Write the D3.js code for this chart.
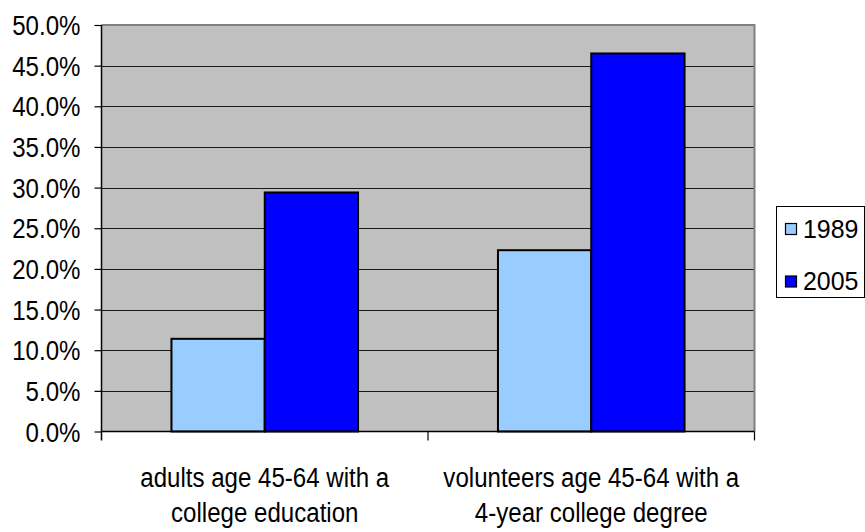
<!DOCTYPE html>
<html>
<head>
<meta charset="utf-8">
<script src="https://cdn.jsdelivr.net/npm/d3@7"></script>
<style>
  html, body { margin: 0; padding: 0; background: #fff; }
  svg { display: block; }
  text { font-family: Arial, "Liberation Sans", sans-serif; fill: #000; }
</style>
</head>
<body>
<svg id="chart" width="865" height="532"></svg>
<script>
// Share of people age 45-64 with a college education, by year
const categories = [
  ["adults age 45-64 with a", "college education"],
  ["volunteers age 45-64 with a", "4-year college degree"]
];
const seriesNames = ["1989", "2005"];
const values1989 = [0.114, 0.223];
const values2005 = [0.294, 0.465];
const yTicks = [0, 0.05, 0.10, 0.15, 0.20, 0.25, 0.30, 0.35, 0.40, 0.45, 0.50];
const seriesColors = ["#99ccff", "#0000ff"];

const svg = d3.select("#chart");
const plot = { left: 101.5, right: 754.5, top: 25, bottom: 431.5 };
const fontSize = 28, squeeze = 0.86;

const x0 = d3.scaleBand()
  .domain(d3.range(categories.length))
  .range([plot.left, plot.right])
  .paddingInner(0).paddingOuter(0);
const barW = x0.bandwidth() / 3.5;   // gap width of 150%
const y = d3.scaleLinear().domain([0, 0.5]).range([plot.bottom, plot.top]);

// plot area background
svg.append("rect")
  .attr("x", plot.left).attr("y", plot.top)
  .attr("width", plot.right - plot.left).attr("height", plot.bottom - plot.top)
  .attr("fill", "#c0c0c0");

// gridlines
svg.append("g").selectAll("line")
  .data(yTicks.filter(t => t > 0 && t < 0.5))
  .join("line")
  .attr("x1", plot.left).attr("x2", plot.right)
  .attr("y1", d => Math.round(y(d)) + 0.5).attr("y2", d => Math.round(y(d)) + 0.5)
  .attr("stroke", "#1a1a1a").attr("stroke-width", 1.2);

// top and right border of the plot area
svg.append("path")
  .attr("d", `M${plot.left},${plot.top}H${plot.right}V${plot.bottom}`)
  .attr("fill", "none").attr("stroke", "#808080").attr("stroke-width", 2);

// bars
const rows = [values1989, values2005];
rows.forEach((vals, s) => {
  svg.append("g").selectAll("rect")
    .data(vals)
    .join("rect")
    .attr("x", (d, i) => x0(i) + x0.bandwidth() / 2 - barW + s * barW)
    .attr("y", d => y(d))
    .attr("width", barW)
    .attr("height", d => y(0) - y(d))
    .attr("fill", seriesColors[s])
    .attr("stroke", "#000").attr("stroke-width", 2);
});

// y axis
const yAxis = svg.append("g")
  .attr("transform", `translate(${plot.left},0)`)
  .call(d3.axisLeft(y).tickValues(yTicks).tickSize(7).tickPadding(0)
    .tickFormat(d3.format(".1%")));
yAxis.select(".domain").remove();
yAxis.selectAll(".tick line").attr("stroke", "#000").attr("stroke-width", 1.2);
yAxis.selectAll(".tick text")
  .attr("x", 0).attr("dy", null).attr("dominant-baseline", "central")
  .attr("text-anchor", "end")
  .style("font-size", fontSize + "px")
  .attr("transform", `translate(-21,0) scale(${squeeze},1)`);
svg.append("line")
  .attr("x1", plot.left).attr("x2", plot.left)
  .attr("y1", plot.top).attr("y2", plot.bottom + 9)
  .attr("stroke", "#000").attr("stroke-width", 1.5);

// x axis line and category dividers
svg.append("line")
  .attr("x1", plot.left).attr("x2", plot.right)
  .attr("y1", plot.bottom).attr("y2", plot.bottom)
  .attr("stroke", "#000").attr("stroke-width", 1.5);
const dividers = d3.range(categories.length + 1).map(i =>
  i < categories.length ? x0(i) : plot.right);
svg.append("g").selectAll("line")
  .data(dividers.slice(1))
  .join("line")
  .attr("x1", d => d).attr("x2", d => d)
  .attr("y1", plot.bottom).attr("y2", plot.bottom + 9)
  .attr("stroke", "#000").attr("stroke-width", 1.2);

// category labels
const catG = svg.append("g").selectAll("g")
  .data(categories)
  .join("g")
  .attr("transform", (d, i) => `translate(${x0(i) + x0.bandwidth() / 2},0)`);
catG.each(function(lines) {
  d3.select(this).selectAll("text")
    .data(lines)
    .join("text")
    .attr("text-anchor", "middle")
    .attr("transform", (d, j) => `translate(0,${486.5 + j * 35}) scale(${squeeze},1)`)
    .style("font-size", fontSize + "px")
    .text(d => d);
});

// legend
const legend = svg.append("g");
legend.append("rect")
  .attr("x", 776.5).attr("y", 206.5).attr("width", 88).attr("height", 91)
  .attr("fill", "#fff").attr("stroke", "#000").attr("stroke-width", 1);
const items = legend.selectAll("g.item")
  .data(seriesNames)
  .join("g").attr("class", "item")
  .attr("transform", (d, i) => `translate(0,${i * 52.5})`);
items.append("rect")
  .attr("x", 785.5).attr("y", 223.5).attr("width", 11).attr("height", 11)
  .attr("fill", (d, i) => seriesColors[i])
  .attr("stroke", "#000").attr("stroke-width", 1.2);
items.append("text")
  .attr("transform", "translate(803,237.5) scale(0.96,1)")
  .style("font-size", "26px")
  .text(d => d);
</script>
</body>
</html>
